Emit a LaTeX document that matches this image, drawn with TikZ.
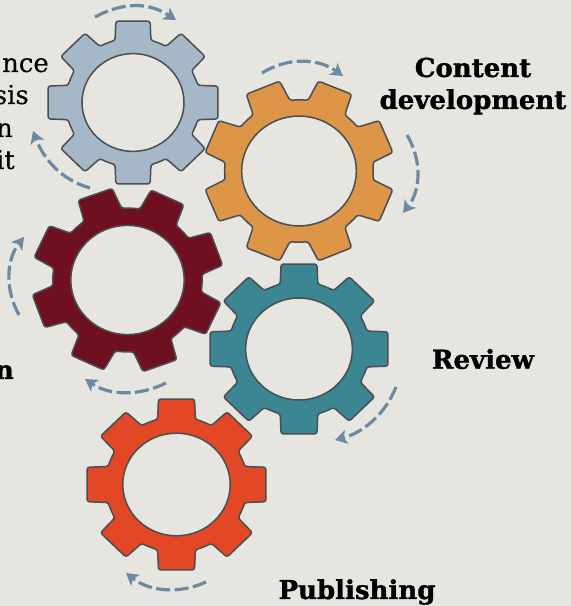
\documentclass[tikz,border=0pt]{standalone}
\usepackage{fontspec}
\setmainfont{DejaVu Serif}[BoldFeatures={FakeBold=1.2},FakeBold=0.25]
\usetikzlibrary{arrows.meta}
\definecolor{bgc}{HTML}{E6E5E0}
\definecolor{gblue}{HTML}{A6B7C7}
\definecolor{gorange}{HTML}{DD9648}
\definecolor{gmaroon}{HTML}{6E101F}
\definecolor{gteal}{HTML}{3C8592}
\definecolor{gred}{HTML}{E24726}
\definecolor{gline}{HTML}{4A4F52}
\definecolor{garrow}{HTML}{6E8AA3}
\tikzset{
  gearline/.style={draw=gline,line width=1.5pt,line join=round},
  turn/.style={draw=garrow,line width=3.2pt,dash pattern=on 14pt off 4.5pt,-{Stealth[length=12pt,width=14pt,inset=3pt]}},
  boldlabel/.style={font=\bfseries\fontsize{26}{32}\selectfont,text=black,align=center,inner sep=0pt},
  thinlabel/.style={font=\fontsize{26}{30}\selectfont,text=black,inner sep=0pt,anchor=base east}
}
% #1 cx, #2 cy (pixels from top), #3 xr, #4 yr, #5 inner ratio, #6 rotation, #7 colour, #8 tip half-angle
\newcommand{\gearshape}[8]{%
  \begin{scope}[shift={(#1,606-#2)},xscale=#3,yscale=#4]
    \path[gearline,fill=#7,rounded corners=2.5pt]
      ({#6-22.5}:0.79) \foreach \a in {0,45,...,315}{
        arc[start angle={#6+\a-22.5},end angle={#6+\a-15.5},radius=0.79]
        -- ({#6+\a-#8}:1.02)
        -- ({#6+\a+#8}:1.02)
        -- ({#6+\a+15.5}:0.79)
        arc[start angle={#6+\a+15.5},end angle={#6+\a+22.5},radius=0.79]
      };
    \path[draw=gline,line width=1.5pt,fill=bgc] (0,0) circle[radius=#5];
  \end{scope}}
\begin{document}
\begin{tikzpicture}[x=1pt,y=1pt]
\useasboundingbox (0,0) rectangle (571,606);
\fill[bgc] (0,0) rectangle (571,606);
\gearshape{133}{102.5}{85}{81.5}{.6}{0}{gblue}{11.4}
\gearshape{299}{171}{94}{90}{.61}{22.5}{gorange}{10.8}
\gearshape{127.5}{280}{94.5}{91}{.6}{20}{gmaroon}{10.8}
\gearshape{299}{349}{89}{85}{.6}{0}{gteal}{11.4}
\gearshape{176.5}{484.5}{89.5}{85.5}{.6}{0}{gred}{11.4}
\draw[turn] (95,606-17) .. controls (125,606-1) and (150,606-3) .. (176,606-20);
\draw[turn] (90,606-188) .. controls (62,606-180) and (44,606-160) .. (33,606-131);
\draw[turn] (262,606-73) .. controls (288,606-57) and (318,606-58) .. (343,606-76);
\draw[turn] (407,606-135) .. controls (422,606-160) and (421,606-190) .. (403,606-213);
\draw[turn] (19,606-315) .. controls (5,606-290) and (6,606-260) .. (24,606-237);
\draw[turn] (166,606-383) .. controls (140,606-396) and (110,606-396) .. (85,606-379);
\draw[turn] (396,606-387) .. controls (385,606-415) and (362,606-433) .. (335,606-440);
\draw[turn] (206,606-582) .. controls (180,606-594) and (150,606-592) .. (126,606-573);
\node[boldlabel] (content) at (473,606-86) {Content\\development};
\node[boldlabel] (review) at (483,606-359) {Review};
\node[boldlabel] (publishing) at (357,606-592) {Publishing};
\node[boldlabel,anchor=base east] (cutn) at (14,606-379) {n};
\node[thinlabel] (l1) at (49,606-72) {nce};
\node[thinlabel] (l2) at (29,606-104) {sis};
\node[thinlabel] (l3) at (13,606-137) {n};
\node[thinlabel] (l4) at (15,606-169) {it};
\end{tikzpicture}
\end{document}
